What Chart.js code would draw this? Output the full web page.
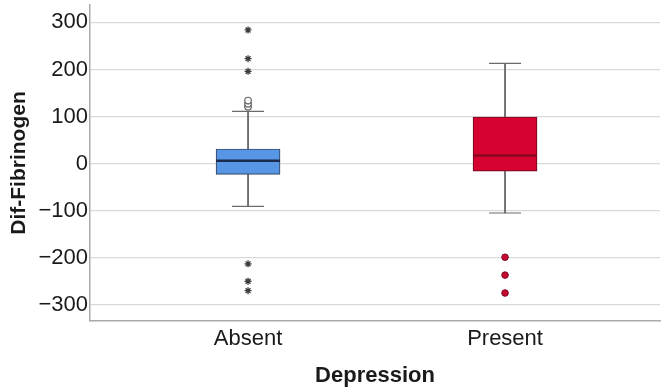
<!DOCTYPE html>
<html>
<head>
<meta charset="utf-8">
<script src="https://cdn.jsdelivr.net/npm/chart.js@4/dist/chart.umd.min.js"></script>
<style>
  html, body { margin: 0; padding: 0; background: #ffffff; }
  #wrap { width: 671px; height: 389px; position: relative; }
</style>
</head>
<body>
<div id="wrap"><canvas id="c" width="671" height="389"></canvas></div>
<script>
// ---- Data ----
const categories   = ['Absent', 'Present'];
const q1           = [-23, -16];
const median       = [6, 17];
const q3           = [31, 99];
const whiskerLow   = [-91, -105];
const whiskerHigh  = [111, 213];
const absentStars  = [284, 223, 196, -213, -250, -270];
const absentCircles = [121, 127, 134];
const presentCircles = [-199, -237, -275];
const yTickValues  = [-300, -200, -100, 0, 100, 200, 300];
const xTitle = 'Depression';
const yTitle = 'Dif-Fibrinogen';

// ---- styles ----
const boxFill   = ['rgb(86,150,229)', 'rgb(214,3,49)'];
const boxBorder = ['#3a4f6e', '#7a0a22'];
const medColor  = ['#1b2b4d', '#86081f'];
const whiskerColor = '#6b6b6b';
const fontFam = '"Liberation Sans", Arial, Helvetica, sans-serif';

const pos = categories.map((c, i) => i + 1);
const boxData = pos.map((x, i) => ({x, y: [q1[i], q3[i]]}));
const upWhisk = pos.map((x, i) => ({x, y: [q3[i], whiskerHigh[i]]}));
const loWhisk = pos.map((x, i) => ({x, y: [whiskerLow[i], q1[i]]}));
const caps = pos.flatMap((x, i) => [{x, y: whiskerHigh[i]}, {x, y: whiskerLow[i]}]);
const meds = pos.map((x, i) => ({x, y: median[i]}));
const starPts = absentStars.map(y => ({x: pos[0], y}));
const circA = absentCircles.map(y => ({x: pos[0], y}));
const circP = presentCircles.map(y => ({x: pos[1], y}));

new Chart(document.getElementById('c'), {
  type: 'bar',
  data: {
    datasets: [
      { type: 'scatter', data: meds, pointStyle: 'line', pointRadius: 32, pointHoverRadius: 32,
        pointBorderWidth: 2.5, borderColor: medColor, pointBorderColor: medColor, order: 0 },
      { type: 'scatter', data: starPts, pointStyle: 'star', pointRadius: 3.5,
        pointBorderWidth: 1.3, pointBorderColor: '#3a3a3a', pointBackgroundColor: '#3a3a3a', order: 0 },
      { type: 'scatter', data: circA, pointStyle: 'circle', pointRadius: 3.3,
        pointBorderWidth: 1.2, pointBorderColor: '#666', pointBackgroundColor: 'rgba(255,255,255,0.9)', order: 0 },
      { type: 'scatter', data: circP, pointStyle: 'circle', pointRadius: 3.3,
        pointBorderWidth: 1, pointBorderColor: '#7a0a22', pointBackgroundColor: 'rgb(200,10,50)', order: 0 },
      { type: 'scatter', data: caps, pointStyle: 'line', pointRadius: 16,
        pointBorderWidth: 1.2, pointBorderColor: whiskerColor, order: 1 },
      { type: 'bar', data: boxData, barThickness: 64, grouped: false,
        backgroundColor: boxFill, borderColor: boxBorder, borderWidth: 1.2, borderSkipped: false, order: 2 },
      { type: 'bar', data: upWhisk, barThickness: 1.2, grouped: false,
        backgroundColor: whiskerColor, borderWidth: 0, order: 3 },
      { type: 'bar', data: loWhisk, barThickness: 1.2, grouped: false,
        backgroundColor: whiskerColor, borderWidth: 0, order: 3 }
    ]
  },
  options: {
    responsive: false,
    animation: false,
    events: [],
    layout: { autoPadding: false, padding: { left: 0, right: 11, top: 5, bottom: 0 } },
    plugins: { legend: { display: false }, tooltip: { enabled: false } },
    scales: {
      x: {
        type: 'linear',
        offset: false,
        min: 0.385, max: 2.603,
        afterBuildTicks: s => { s.ticks = pos.map(v => ({value: v})); },
        afterFit: s => { s.height = 68; s.paddingLeft = 0; s.paddingRight = 0; },
        grid: { display: false, drawTicks: false },
        border: { display: true, color: '#a9a9a9', width: 1.5 },
        ticks: {
          autoSkip: false, maxRotation: 0, padding: 5,
          color: '#1a1a1a', font: { family: fontFam, size: 22 },
          callback: v => categories[v - 1] ?? ''
        },
        title: { display: true, text: xTitle, color: '#1a1a1a',
          font: { family: fontFam, size: 22, weight: 'bold' }, padding: { top: 0, bottom: 0 } }
      },
      y: {
        min: -334.5, max: 337,
        afterBuildTicks: s => { s.ticks = yTickValues.map(v => ({value: v})); },
        afterFit: s => { s.width = 90; s.paddingTop = 0; s.paddingBottom = 0; },
        grid: { color: '#d9d9d9', lineWidth: 1.2, drawTicks: false },
        border: { display: true, color: '#a9a9a9', width: 1.5 },
        ticks: {
          padding: 2, color: '#1a1a1a', font: { family: fontFam, size: 22 },
          callback: v => (v < 0 ? '\u2212' + Math.abs(v) : String(v))
        },
        title: { display: true, text: yTitle, color: '#1a1a1a',
          font: { family: fontFam, size: 21, weight: 'bold' }, padding: { top: 7, bottom: 0 } }
      }
    }
  }
});
</script>
</body>
</html>
